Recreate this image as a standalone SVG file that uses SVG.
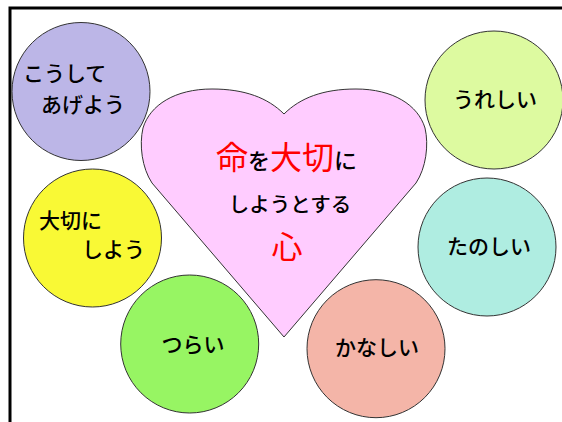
<svg xmlns="http://www.w3.org/2000/svg" width="562" height="422" viewBox="0 0 562 422">
<style>
.c{stroke:#333;stroke-width:1}
.t{font-family:"Noto Sans CJK JP","Noto Sans",sans-serif;font-size:21px;font-weight:500;fill:#000}
.h{font-family:"Noto Sans CJK JP","Noto Sans",sans-serif;font-weight:500;fill:#000}
.r{fill:#FF0000;font-weight:400}
</style>
<rect x="0" y="0" width="562" height="422" fill="#fff"/>
<path d="M10,424 L10,8 L564,8" fill="none" stroke="#000" stroke-width="3"/>
<g id="heart">
<path d="M284,114 C268,98 245,89 212,89 C175,89 150,105 143,128 C139,145 142,168 152,183 L284,337 L416,183 C426,168 429,145 425,128 C418,105 393,89 356,89 C323,89 300,98 284,114 Z" fill="#FFCCFF" stroke="#333" stroke-width="1"/>
<text class="h" x="216" y="169"><tspan class="r" font-size="32">命</tspan><tspan font-size="22">を</tspan><tspan class="r" font-size="32">大切</tspan><tspan font-size="23">に</tspan></text>
<text class="h" x="290" y="212" font-size="20.5" text-anchor="middle">しようとする</text>
<text class="h r" x="287" y="258" font-size="31" text-anchor="middle">心</text>
</g>
<g id="n1">
<circle class="c" cx="81" cy="91.5" r="69" fill="#BCB6E7"/>
<text class="t" x="23" y="81">こうして</text>
<text class="t" x="41" y="112">あげよう</text>
</g>
<g id="n2">
<circle class="c" cx="92.5" cy="238" r="69" fill="#F9F935"/>
<text class="t" x="39" y="228">大切に</text>
<text class="t" x="82" y="257">しよう</text>
</g>
<g id="n3">
<circle class="c" cx="189.7" cy="344" r="69" fill="#97F563"/>
<text class="t" x="193" y="352" text-anchor="middle">つらい</text>
</g>
<g id="n4">
<circle class="c" cx="494" cy="100" r="69" fill="#DDFAA0"/>
<text class="t" x="495" y="107" text-anchor="middle">うれしい</text>
</g>
<g id="n5">
<circle class="c" cx="487" cy="247" r="69" fill="#AFEDE1"/>
<text class="t" x="489" y="254" text-anchor="middle">たのしい</text>
</g>
<g id="n6">
<circle class="c" cx="376" cy="348.7" r="69" fill="#F4B5A8"/>
<text class="t" x="377" y="355" text-anchor="middle">かなしい</text>
</g>
<g id="connectors"></g>
</svg>
